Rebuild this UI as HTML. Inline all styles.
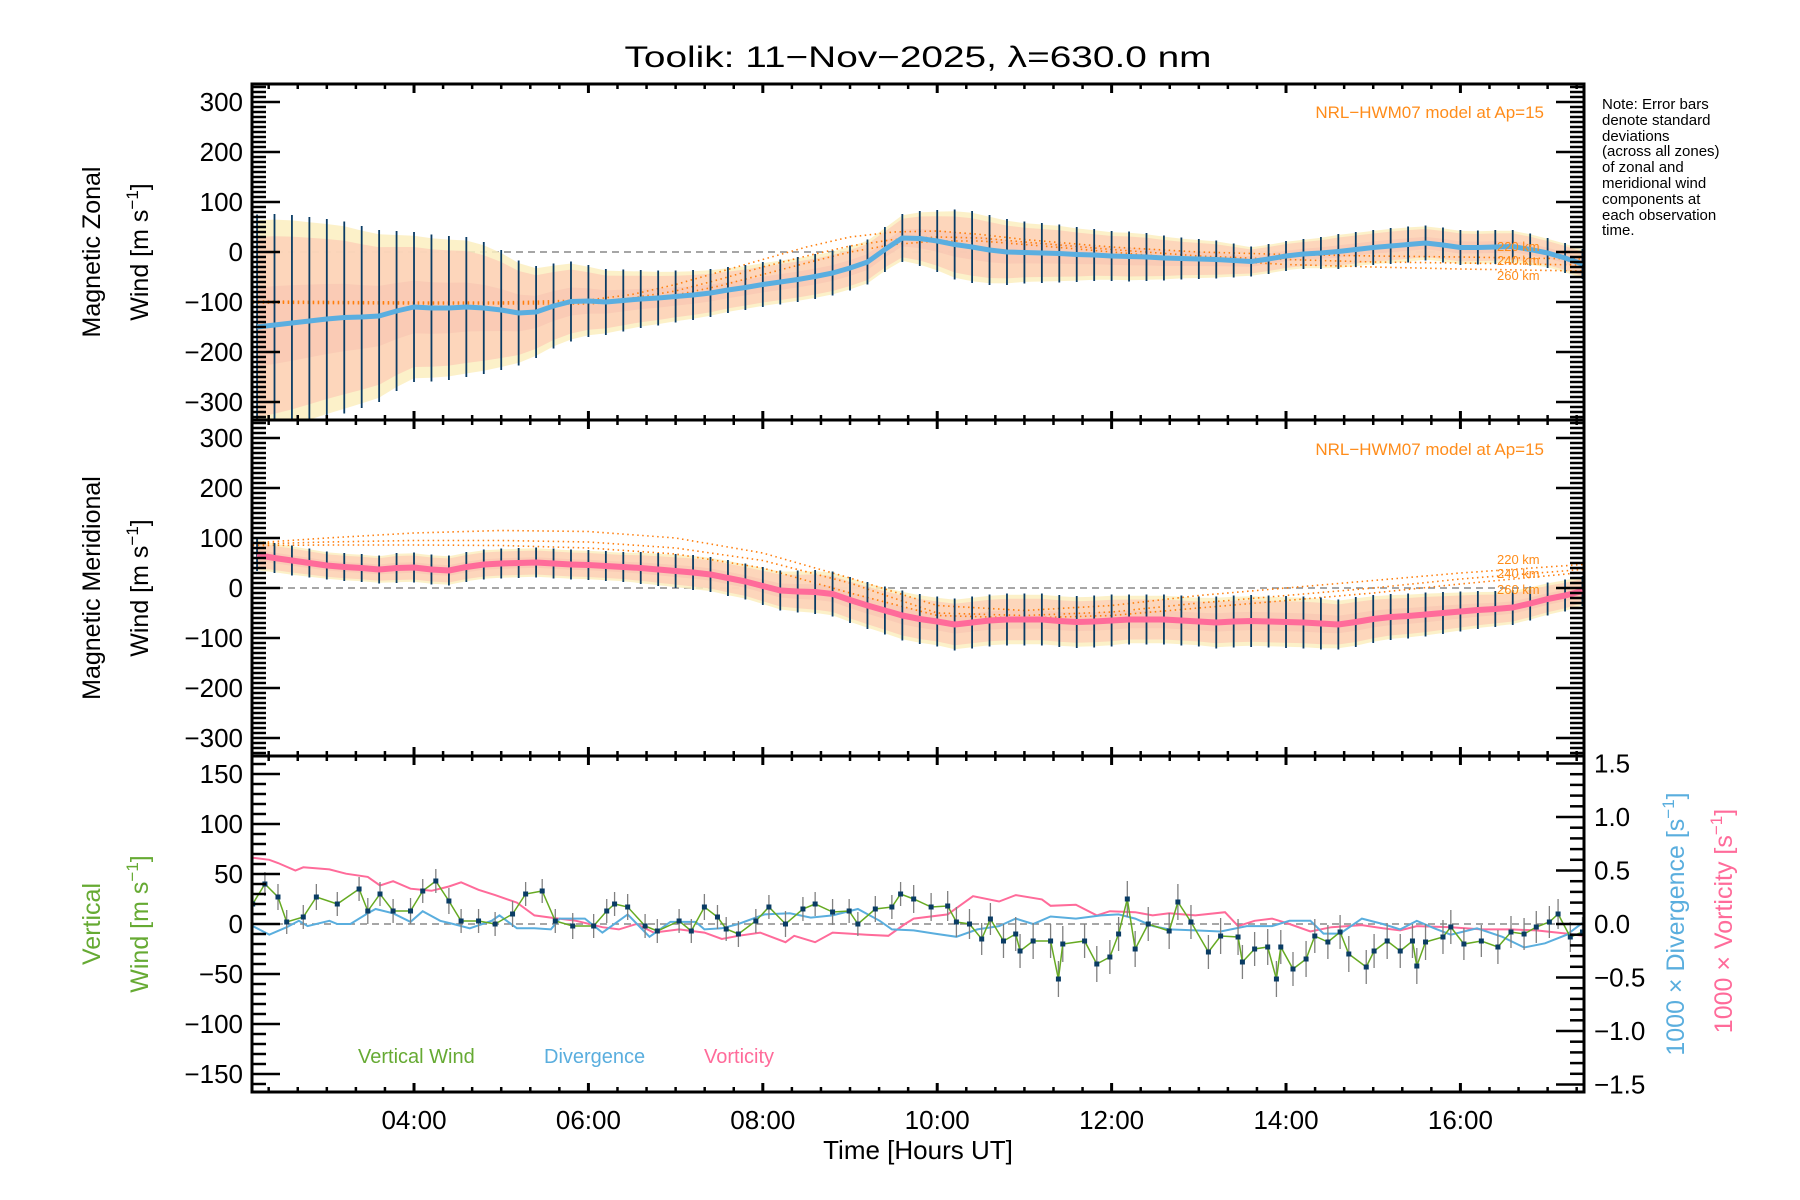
<!DOCTYPE html>
<html><head><meta charset="utf-8"><title>Toolik winds</title>
<style>
html,body{margin:0;padding:0;background:#fff;}
svg{display:block;font-family:"Liberation Sans",sans-serif;}
</style></head>
<body>
<svg id="chart" xmlns="http://www.w3.org/2000/svg" width="1800" height="1200" viewBox="0 0 1800 1200">
<rect x="0" y="0" width="1800" height="1200" fill="#fff"/>
<defs>
<clipPath id="c1"><rect x="252" y="84" width="1332" height="336"/></clipPath>
<clipPath id="c2"><rect x="252" y="420" width="1332" height="336"/></clipPath>
<clipPath id="c3"><rect x="252" y="756" width="1332" height="336"/></clipPath>
</defs>
<text x="918" y="67" font-size="30" text-anchor="middle" textLength="587" lengthAdjust="spacingAndGlyphs">Toolik: 11−Nov−2025, λ=630.0 nm</text>
<g id="layer-data"></g>
<g id="layer-axes"></g>

<text transform="translate(100,252) rotate(-90)" font-size="25" text-anchor="middle">Magnetic Zonal</text>
<text transform="translate(148,252) rotate(-90)" font-size="25" text-anchor="middle">Wind [m s<tspan font-size="17" dy="-10">−1</tspan><tspan dy="10">]</tspan></text>
<text transform="translate(100,588) rotate(-90)" font-size="25" text-anchor="middle">Magnetic Meridional</text>
<text transform="translate(148,588) rotate(-90)" font-size="25" text-anchor="middle">Wind [m s<tspan font-size="17" dy="-10">−1</tspan><tspan dy="10">]</tspan></text>
<text transform="translate(100,924) rotate(-90)" font-size="25" text-anchor="middle" fill="#66aa33">Vertical</text>
<text transform="translate(148,924) rotate(-90)" font-size="25" text-anchor="middle" fill="#66aa33">Wind [m s<tspan font-size="17" dy="-10">−1</tspan><tspan dy="10">]</tspan></text>
<text transform="translate(1684,924) rotate(-90)" font-size="25" text-anchor="middle" fill="#5aaede">1000 × Divergence [s<tspan font-size="17" dy="-10">−1</tspan><tspan dy="10">]</tspan></text>
<text transform="translate(1732,921) rotate(-90)" font-size="25" text-anchor="middle" fill="#ff6b9a">1000 × Vorticity [s<tspan font-size="17" dy="-10">−1</tspan><tspan dy="10">]</tspan></text>
<text x="918" y="1159" font-size="26" text-anchor="middle">Time [Hours UT]</text>

<text x="1544" y="118" font-size="17" text-anchor="end" fill="#ff8c1a">NRL−HWM07 model at Ap=15</text>
<text x="1544" y="455" font-size="17" text-anchor="end" fill="#ff8c1a">NRL−HWM07 model at Ap=15</text>
<g font-size="13" fill="#ff8c1a">
<text x="1497" y="251">220 km</text>
<text x="1497" y="265">240 km</text>
<text x="1497" y="280">260 km</text>
<text x="1497" y="564">220 km</text>
<text x="1497" y="578">240 km</text>
<text x="1497" y="594">260 km</text>
</g>
<g font-size="15">
<text x="1602" y="109">Note: Error bars</text>
<text x="1602" y="125">denote standard</text>
<text x="1602" y="141">deviations</text>
<text x="1602" y="156">(across all zones)</text>
<text x="1602" y="172">of zonal and</text>
<text x="1602" y="188">meridional wind</text>
<text x="1602" y="204">components at</text>
<text x="1602" y="220">each observation</text>
<text x="1602" y="235">time.</text>
</g>
<text x="358" y="1063" font-size="20" fill="#66aa33">Vertical Wind</text>
<text x="544" y="1063" font-size="20" fill="#5aaede">Divergence</text>
<text x="704" y="1063" font-size="20" fill="#ff6b9a">Vorticity</text>
</svg>
<script>
// ---- data ----
const gridHours = [2.2,2.4,2.6,2.8,3.0,3.2,3.4,3.6,3.8,4.0,4.2,4.4,4.6,4.8,5.0,5.2,5.4,5.6,5.8,6.0,6.2,6.4,6.6,6.8,7.0,7.2,7.4,7.6,7.8,8.0,8.2,8.4,8.6,8.8,9.0,9.2,9.4,9.6,9.8,10.0,10.2,10.4,10.6,10.8,11.0,11.2,11.4,11.6,11.8,12.0,12.2,12.4,12.6,12.8,13.0,13.2,13.4,13.6,13.8,14.0,14.2,14.4,14.6,14.8,15.0,15.2,15.4,15.6,15.8,16.0,16.2,16.4,16.6,16.8,17.0,17.2,17.4];
const zonalMean = [-150,-146,-142,-138,-134,-131,-130,-128,-118,-110,-112,-112,-110,-112,-116,-122,-120,-108,-99,-98,-100,-97,-94,-92,-89,-86,-82,-76,-71,-65,-60,-55,-49,-42,-32,-20,5,28,27,22,15,10,4,0,-1,-2,-3,-5,-6,-8,-9,-10,-12,-13,-14,-15,-17,-19,-14,-8,-4,-2,1,5,9,12,15,18,14,9,9,10,11,5,-2,-12,-24];
const zonalSigma = [225,222,216,208,200,192,182,172,160,150,147,144,140,132,120,105,92,85,80,72,66,62,58,55,52,50,48,46,45,45,45,45,45,45,45,45,45,48,55,62,70,72,70,66,62,60,58,55,52,50,50,48,45,42,40,38,34,30,30,30,30,32,35,35,35,36,36,35,35,35,34,34,33,32,30,30,30];
const meridMean = [66,60,55,50,45,42,40,37,40,41,37,35,42,47,49,50,51,49,47,46,44,42,40,37,34,31,27,20,13,4,-5,-7,-8,-12,-24,-35,-45,-55,-62,-67,-73,-69,-65,-63,-63,-63,-66,-68,-67,-65,-63,-63,-63,-65,-67,-69,-67,-66,-67,-68,-69,-71,-73,-68,-62,-58,-56,-53,-50,-47,-44,-42,-39,-31,-22,-15,-6];
const meridSigma = [32,30,30,29,28,28,28,28,30,30,30,30,30,30,30,30,30,30,30,30,30,30,32,33,34,35,35,36,36,38,40,42,44,45,46,47,48,50,50,50,52,52,52,52,52,52,52,52,52,52,50,50,50,50,50,52,52,52,52,52,52,52,50,50,48,46,45,44,42,40,38,36,35,34,33,32,30];
const modelHoursZ = [2.15,3,4,5,6,6.5,7,7.5,8,8.5,9,9.5,10,10.5,11,12,13,14,15,16,17.4];
const modelZ220 = [-98,-99,-100,-100,-96,-85,-65,-40,-15,10,30,40,42,35,25,10,0,-5,-8,-10,-14];
const modelZ240 = [-100,-101,-102,-102,-100,-92,-78,-55,-30,-8,12,25,30,28,20,5,-8,-15,-20,-22,-26];
const modelZ260 = [-102,-103,-104,-104,-104,-98,-86,-68,-45,-22,0,15,22,22,15,0,-15,-25,-30,-34,-38];
const modelHoursM = [2.15,3,4,5,6,7,8,9,10,11,12,13,14,15,16,17.4];
const modelM220 = [90,100,110,115,113,100,70,20,-35,-45,-35,-15,0,15,30,47];
const modelM240 = [88,92,95,95,92,80,55,10,-50,-55,-48,-30,-15,0,18,37];
const modelM260 = [85,86,86,85,80,68,40,-10,-55,-60,-55,-40,-25,-10,8,31];
const vertHours = [2.15,2.29,2.44,2.54,2.73,2.88,3.12,3.37,3.47,3.61,3.76,3.96,4.10,4.25,4.4,4.54,4.74,4.93,5.13,5.28,5.47,5.62,5.82,6.06,6.21,6.3,6.45,6.65,6.79,7.04,7.18,7.33,7.48,7.58,7.72,7.92,8.07,8.26,8.46,8.6,8.8,8.99,9.09,9.29,9.48,9.58,9.73,9.93,10.12,10.22,10.37,10.51,10.61,10.76,10.9,10.95,11.1,11.3,11.39,11.44,11.69,11.83,11.98,12.08,12.18,12.27,12.42,12.66,12.76,12.91,13.11,13.25,13.45,13.5,13.64,13.79,13.89,13.94,14.08,14.23,14.33,14.48,14.62,14.72,14.92,15.01,15.16,15.31,15.45,15.5,15.6,15.8,15.89,16.04,16.24,16.43,16.58,16.73,16.87,17.02,17.12,17.26,17.4];
const vertWind = [20,40,27,2,7,27,20,35,13,30,13,13,33,43,23,3,3,0,10,30,33,3,-2,-2,13,20,17,-2,-7,3,-7,17,7,-5,-10,3,17,0,15,20,12,13,0,15,17,30,25,17,18,2,0,-15,5,-17,-10,-27,-17,-17,-55,-20,-17,-40,-33,-10,25,-25,0,-7,22,2,-28,-12,-13,-38,-25,-23,-55,-23,-45,-35,-12,-18,-8,-30,-43,-27,-17,-27,-17,-42,-18,-13,-3,-20,-17,-23,-8,-10,-3,2,10,-13,-8];
const vertErr = [12,12,13,12,12,13,12,12,13,12,12,13,12,12,13,12,12,12,13,12,12,12,13,12,12,12,13,12,12,12,12,13,12,12,13,12,12,13,12,12,13,12,12,13,12,12,14,14,15,15,15,16,16,17,17,17,18,17,18,18,17,18,17,17,18,18,17,18,18,17,17,18,18,17,17,18,18,17,17,18,17,17,17,18,17,17,18,17,17,18,18,17,17,16,16,17,16,16,16,16,15,15,15];
const divHours = [2.15,2.34,2.54,2.68,2.78,3.03,3.12,3.27,3.47,3.56,3.76,3.96,4.1,4.3,4.45,4.64,4.89,4.98,5.18,5.38,5.57,5.67,5.96,6.16,6.45,6.7,6.94,7.23,7.33,7.53,7.72,8.02,8.31,8.55,8.8,9.09,9.34,9.48,9.73,9.97,10.22,10.46,10.71,10.9,11.1,11.3,11.59,11.88,12.08,12.27,12.47,12.66,12.96,13.25,13.55,13.84,14.04,14.28,14.43,14.62,14.87,15.11,15.31,15.5,15.7,15.89,16.19,16.48,16.73,16.97,17.22,17.4];
const divValues = [-0.02,-0.1,-0.03,0.03,-0.02,0.03,0,0,0.1,0.14,0.1,0.02,0.12,0.03,0,-0.04,0.03,0.08,-0.04,-0.04,-0.05,0.05,0.05,-0.08,0.09,-0.12,0.02,0.02,-0.05,-0.04,0,0.09,0.1,0.06,0.08,0.14,0.03,-0.05,-0.06,-0.09,-0.12,-0.05,-0.02,0.05,0,0.07,0.05,0.08,0.09,0.05,-0.02,-0.05,-0.06,-0.07,-0.02,-0.02,0.03,0.03,-0.09,-0.09,0.05,0,-0.05,0.03,-0.04,-0.1,-0.04,-0.12,-0.22,-0.18,-0.1,0.01];
const vortHours = [2.15,2.34,2.44,2.64,2.73,3.03,3.22,3.47,3.61,3.76,3.96,4.2,4.4,4.54,4.74,4.93,5.18,5.38,5.57,5.86,6.16,6.35,6.55,6.75,7.04,7.33,7.53,7.72,7.97,8.26,8.36,8.6,8.8,8.99,9.19,9.44,9.63,9.73,10.12,10.41,10.71,10.9,11.2,11.3,11.59,11.83,11.98,12.27,12.47,12.66,12.96,13.3,13.45,13.64,13.84,14.04,14.28,14.52,14.87,15.11,15.31,15.5,15.89,16.24,16.58,16.87,17.22,17.4];
const vortValues = [0.62,0.6,0.57,0.5,0.53,0.51,0.47,0.44,0.36,0.4,0.33,0.31,0.35,0.39,0.32,0.27,0.2,0.08,0.06,0.03,-0.03,-0.05,0,-0.08,-0.05,-0.08,-0.14,-0.11,-0.08,-0.17,-0.11,-0.17,-0.08,-0.09,-0.1,-0.11,0,0.05,0.09,0.26,0.21,0.27,0.23,0.17,0.18,0.08,0.12,0.11,0.08,0.1,0.08,0.11,-0.02,0.03,0.05,0,-0.07,-0.03,-0.01,-0.04,-0.06,-0.02,-0.03,-0.05,-0.05,-0.06,-0.09,-0.11];
const windTicks = [300,200,100,0,-100,-200,-300];
const windTickLabels = ["300","200","100","0","−100","−200","−300"];
const vertTicks = [150,100,50,0,-50,-100,-150];
const vertTickLabels = ["150","100","50","0","−50","−100","−150"];
const rightTicks = [1.5,1.0,0.5,0.0,-0.5,-1.0,-1.5];
const rightTickLabels = ["1.5","1.0","0.5","0.0","−0.5","−1.0","−1.5"];
const hourTicks = [4,6,8,10,12,14,16];
const hourTickLabels = ["04:00","06:00","08:00","10:00","12:00","14:00","16:00"];

// ---- scales ----
const NS = 'http://www.w3.org/2000/svg';
const X0 = 252, X1 = 1584, H0 = 2.142, PXH = 87.2;
function xS(h){ return X0 + (h - H0) * PXH; }
function yZ(v){ return 252 - v * 0.5; }
function yM(v){ return 588 - v * 0.5; }
function yV(v){ return 924 - v; }
function yR(v){ return 924 - v * 107; }
function mk(tag, attrs, parent){ const e = document.createElementNS(NS, tag); for (const k in attrs) e.setAttribute(k, attrs[k]); parent.appendChild(e); return e; }
const dataLayer = document.getElementById('layer-data');
const axesLayer = document.getElementById('layer-axes');

function pts(hs, vs, yf){ return hs.map((h,i)=> xS(h).toFixed(1)+','+yf(vs[i]).toFixed(1)).join(' '); }

function windPanel(clip, yf, mean, sigma, models, meanColor, meanWidth, prefix){
  const g = mk('g', {'clip-path':'url(#'+clip+')'}, dataLayer);
  
  
  const z = mk('line', {x1:X0, x2:X1, y1:yf(0), y2:yf(0), stroke:'#888', 'stroke-width':1.5, 'stroke-dasharray':'7 5'}, g);
  
  
  const bands = [[0.95,'#fbefc0',0.85],[0.8,'#fcd0b8',0.8],[0.35,'#f8c0b0',0.5]];
  bands.forEach(b=>{
    const up = gridHours.map((h,i)=> xS(h).toFixed(1)+','+yf(mean[i]+b[0]*sigma[i]).toFixed(1));
    const lo = gridHours.map((h,i)=> xS(h).toFixed(1)+','+yf(mean[i]-b[0]*sigma[i]).toFixed(1)).reverse();
    const p = mk('polygon', {points: up.concat(lo).join(' '), fill:b[1], opacity:b[2]}, g);
    
    
  });
  models.forEach(m=>{
    const l = mk('polyline', {points: pts(m.h, m.v, yf), fill:'none', stroke:'#ff7f0e', 'stroke-width':1.6, 'stroke-dasharray':'1.5 3.5'}, g);
    
    
  });
  gridHours.forEach((h,i)=>{
    const b = mk('line', {x1:xS(h), x2:xS(h), y1:yf(mean[i]+sigma[i]), y2:yf(mean[i]-sigma[i]), stroke:'#0a3c64', 'stroke-width':1.8}, g);
    
    
  });
  const ml = mk('polyline', {points: pts(gridHours, mean, yf), fill:'none', stroke:meanColor, 'stroke-width':meanWidth, 'stroke-linejoin':'round'}, g);
  
  
}
windPanel('c1', yZ, zonalMean, zonalSigma, [{name:'220km',h:modelHoursZ,v:modelZ220},{name:'240km',h:modelHoursZ,v:modelZ240},{name:'260km',h:modelHoursZ,v:modelZ260}], '#5aaee0', 5, 'zonal');
windPanel('c2', yM, meridMean, meridSigma, [{name:'220km',h:modelHoursM,v:modelM220},{name:'240km',h:modelHoursM,v:modelM240},{name:'260km',h:modelHoursM,v:modelM260}], '#ff6b9a', 6, 'meridional');

const g3 = mk('g', {'clip-path':'url(#c3)'}, dataLayer);


const z3 = mk('line', {x1:X0, x2:X1, y1:yV(0), y2:yV(0), stroke:'#888', 'stroke-width':1.5, 'stroke-dasharray':'7 5'}, g3);


const vortLine = mk('polyline', {points: pts(vortHours, vortValues, yR), fill:'none', stroke:'#ff6b9a', 'stroke-width':2}, g3);


const divLine = mk('polyline', {points: pts(divHours, divValues, yR), fill:'none', stroke:'#5aaede', 'stroke-width':2}, g3);


vertHours.forEach((h,i)=>{
  const b = mk('line', {x1:xS(h), x2:xS(h), y1:yV(vertWind[i]+vertErr[i]), y2:yV(vertWind[i]-vertErr[i]), stroke:'#808080', 'stroke-width':1.3}, g3);
  
  
});
const vLine = mk('polyline', {points: pts(vertHours, vertWind, yV), fill:'none', stroke:'#66aa22', 'stroke-width':1.5}, g3);


vertHours.forEach((h,i)=>{
  const s = mk('rect', {x:xS(h)-2.5, y:yV(vertWind[i])-2.5, width:5, height:5, fill:'#0a3c64'}, g3);
  
  
});

// ---- axes ----
const panels = [{top:84,bot:420,name:'zonal'},{top:420,bot:756,name:'meridional'},{top:756,bot:1092,name:'vertical'}];
panels.forEach(p=>{
  const r = mk('rect', {x:X0, y:p.top, width:X1-X0, height:p.bot-p.top, fill:'none', stroke:'#000', 'stroke-width':3}, axesLayer);
  
  
  for (let m = 140; m <= 1045; m += 20){
    const h = m/60;
    if (xS(h) <= X0+1 || xS(h) >= X1-1) continue;
    const major = (m % 120 === 0);
    const len = major ? 9 : 5;
    const t1 = mk('line', {x1:xS(h), x2:xS(h), y1:p.top, y2:p.top+len, stroke:'#000', 'stroke-width':major?3:2.5}, axesLayer);
    
    
    const t2 = mk('line', {x1:xS(h), x2:xS(h), y1:p.bot, y2:p.bot-len, stroke:'#000', 'stroke-width':major?3:2.5}, axesLayer);
    
    
  }
});
function yTicks(yf, lo, hi, minorStep, majorStep, top, bot, side, prefix){
  for (let v = lo; v <= hi + 1e-9; v += minorStep){
    const vv = Math.round(v*1000)/1000;
    const y = yf(vv);
    if (y < top+1 || y > bot-1) continue;
    const major = Math.abs(vv/majorStep - Math.round(vv/majorStep)) < 1e-6;
    const len = major ? 28 : 14;
    const x = side === 'left' ? X0 : X1;
    const t = mk('line', {x1:x, x2: side==='left' ? x+len : x-len, y1:y, y2:y, stroke:'#000', 'stroke-width':2.5}, axesLayer);
    
    
  }
}
yTicks(yZ, -330, 330, 10, 100, 84, 420, 'left', 'zonal-left');
yTicks(yZ, -330, 330, 10, 100, 84, 420, 'right', 'zonal-right');
yTicks(yM, -330, 330, 10, 100, 420, 756, 'left', 'meridional-left');
yTicks(yM, -330, 330, 10, 100, 420, 756, 'right', 'meridional-right');
yTicks(yV, -160, 160, 10, 50, 756, 1092, 'left', 'vertical-left');
yTicks(yR, -1.5, 1.5, 0.1, 0.5, 756, 1092, 'right', 'divergence-right');

function labels(vals, texts, yf, x, anchor, prefix){
  vals.forEach((v,i)=>{
    const t = mk('text', {x:x, y:yf(v)+9, 'font-size':26, 'text-anchor':anchor}, axesLayer);
    t.textContent = texts[i];
    
    
  });
}
labels(windTicks, windTickLabels, yZ, 243, 'end', 'zonal-y');
labels(windTicks, windTickLabels, yM, 243, 'end', 'meridional-y');
labels(vertTicks, vertTickLabels, yV, 243, 'end', 'vertical-y');
labels(rightTicks, rightTickLabels, yR, 1594, 'start', 'divergence-y');
hourTicks.forEach((h,i)=>{
  const t = mk('text', {x:xS(h), y:1129, 'font-size':26, 'text-anchor':'middle'}, axesLayer);
  t.textContent = hourTickLabels[i];
  
  
});
</script>
</body></html>
